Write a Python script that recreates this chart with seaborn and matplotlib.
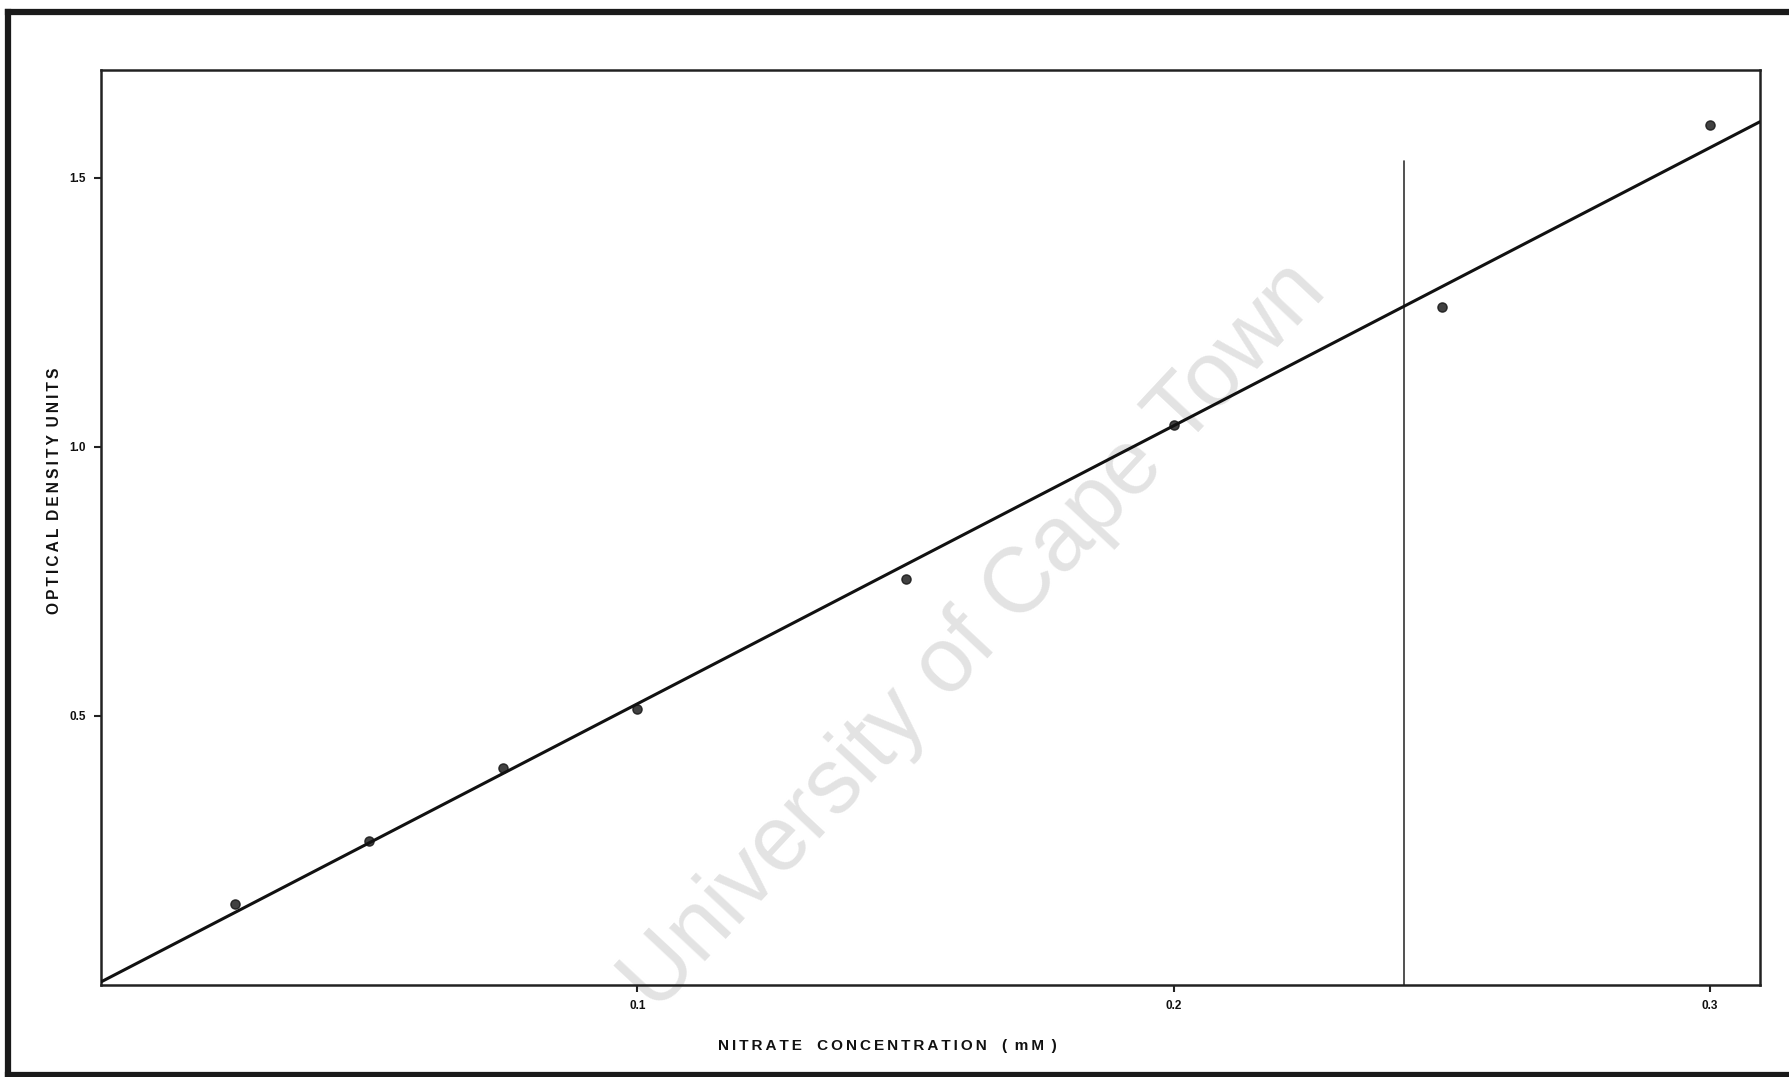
import matplotlib
matplotlib.use("Agg")
import matplotlib.pyplot as plt
import seaborn as sns
import pandas as pd
from matplotlib.lines import Line2D

# Nitrate standard curve: concentration (mM) vs optical density
concentration = [0.025, 0.05, 0.075, 0.10, 0.15, 0.20, 0.25, 0.30]
optical_density = [0.150, 0.268, 0.404, 0.513, 0.755, 1.040, 1.260, 1.598]

x_ticks = [0.1, 0.2, 0.3]
x_tick_labels = ["0.1", "0.2", "0.3"]
y_ticks = [0.5, 1.0, 1.5]
y_tick_labels = ["0.5", "1.0", "1.5"]

# upper limit of the linear range
limit_x = 0.243
limit_top = 1.53

df = pd.DataFrame({"conc": concentration, "od": optical_density})

sns.set_style("ticks")
plt.rcParams["font.family"] = ["Liberation Sans", "DejaVu Sans"]


def spaced(word, gap="\u2009"):
    """Plotter-style lettering: a thin space between letters."""
    return gap.join(word)


fig = plt.figure(figsize=(17.9, 10.77), dpi=100)
ax = fig.add_axes([101 / 1790, 1 - 985 / 1077, (1760 - 101) / 1790, (985 - 70) / 1077])

ax.set_xlim(0.0, 0.3093)
ax.set_ylim(0.0, 1.70)

# watermark behind the data
ax.text(0.527, 0.38, "University of Cape Town", transform=ax.transAxes,
        rotation=47, fontsize=66, color="#e3e3e3", ha="center", va="center",
        rotation_mode="anchor", zorder=0)

sns.regplot(data=df, x="conc", y="od", ax=ax, ci=None, truncate=False,
            scatter_kws=dict(s=44, color="#111111", edgecolor="#111111", zorder=4),
            line_kws=dict(color="#111111", lw=2.2, zorder=3))

ax.plot([limit_x, limit_x], [0, limit_top], color="#333333", lw=1.2, zorder=2)

ax.set_xticks(x_ticks)
ax.set_xticklabels(x_tick_labels)
ax.set_yticks(y_ticks)
ax.set_yticklabels(y_tick_labels)
ax.tick_params(axis="both", direction="out", length=5, width=1.5, color="#222222",
               labelsize=8.5, pad=6, labelcolor="#111111")
for lab in ax.get_xticklabels() + ax.get_yticklabels():
    lab.set_fontweight("bold")

for sp in ax.spines.values():
    sp.set_linewidth(1.8)
    sp.set_color("#222222")

wide = "\u2003"
xlabel = wide.join([spaced("NITRATE"), spaced("CONCENTRATION"),
                    "(\u2002" + spaced("mM") + "\u2002)"])
ylabel = "\u2002".join([spaced("OPTICAL"), spaced("DENSITY"), spaced("UNITS")])
ax.set_xlabel(xlabel, fontsize=11, fontweight="bold", color="#111111")
ax.set_ylabel(ylabel, fontsize=11.2, fontweight="bold", color="#111111")
ax.yaxis.set_label_coords(-0.0235, 0.54)
ax.xaxis.set_label_coords(0.474, -0.059)

# heavy outer frame round the figure (right side falls off the page)
frame_kw = dict(transform=fig.transFigure, color="#1a1a1a", linewidth=4.5,
                solid_capstyle="projecting")
fig.lines.append(Line2D([8 / 1790, 8 / 1790], [2 / 1077, 1065 / 1077], **frame_kw))
fig.lines.append(Line2D([8 / 1790, 1.0], [1065 / 1077, 1065 / 1077], **frame_kw))
fig.lines.append(Line2D([8 / 1790, 1.0], [2 / 1077, 2 / 1077], **frame_kw))

fig.savefig("out.png", dpi=100, facecolor="white")
